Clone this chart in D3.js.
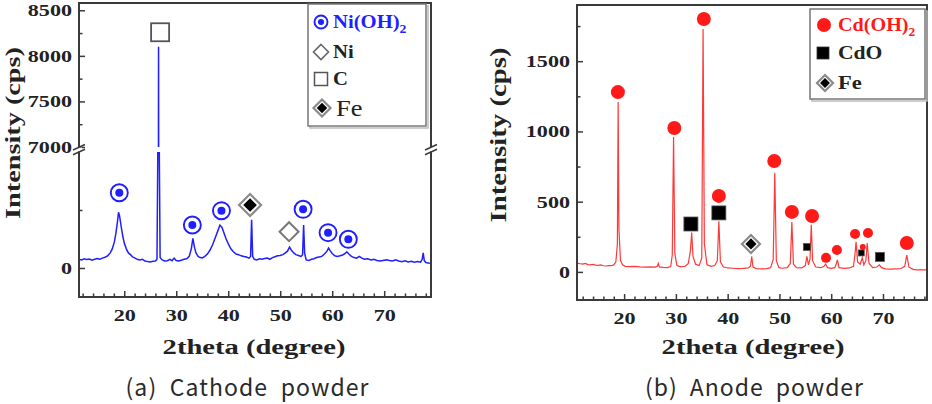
<!DOCTYPE html>
<html>
<head>
<meta charset="utf-8">
<script src="https://cdn.jsdelivr.net/npm/d3@7"></script>
<style>
body { margin: 0; background: #fff; }
</style>
</head>
<body>
<svg id="chart" width="932" height="404"></svg>
<script>
// XRD patterns: [2theta, counts]
var cathodePattern = [
  [11.3,150],[11.8,140],[12.3,160],[12.8,145],[13.3,155],[13.8,135],[14.3,150],[14.8,165],
  [15.3,150],[15.8,170],[16.3,185],[16.8,210],[17.3,260],[17.7,330],[18.1,450],[18.4,600],
  [18.7,800],[18.9,960],[19.1,900],[19.4,720],[19.7,560],[20.0,430],[20.4,330],[20.8,260],
  [21.2,230],[21.6,190],[22.0,175],[22.5,150],[23.0,140],[23.5,150],[24.0,120],[24.5,110],
  [25.0,105],[25.5,115],[26.0,120],[26.3,150],[26.5,2500],[26.6,8100],[26.7,2500],[26.9,180],
  [27.3,140],[27.8,120],[28.3,125],[28.8,150],[29.2,125],[29.6,170],[30.0,130],[30.5,120],
  [31.0,135],[31.5,150],[32.0,160],[32.5,200],[32.9,330],[33.2,510],[33.5,360],[33.8,260],
  [34.2,200],[34.6,180],[35.0,175],[35.5,200],[36.0,240],[36.5,310],[37.0,400],[37.5,520],
  [38.0,640],[38.4,740],[38.8,700],[39.2,600],[39.6,500],[40.0,420],[40.5,330],[41.0,280],
  [41.5,240],[42.0,230],[42.5,210],[43.0,200],[43.5,190],[44.0,170],[44.3,200],[44.5,830],
  [44.7,200],[45.0,150],[45.5,140],[46.0,160],[46.5,150],[47.0,165],[47.5,170],[48.0,150],
  [48.5,180],[49.0,195],[49.5,210],[50.0,215],[50.5,230],[51.0,260],[51.4,290],[51.8,360],
  [52.2,300],[52.6,260],[53.0,230],[53.5,215],[54.0,200],[54.3,230],[54.5,740],[54.7,250],
  [55.0,140],[55.5,130],[56.0,150],[56.5,160],[57.0,180],[57.5,190],[58.0,200],[58.5,240],
  [59.0,290],[59.3,345],[59.6,300],[60.0,250],[60.5,210],[61.0,200],[61.5,210],[62.0,225],
  [62.5,250],[62.8,280],[63.2,240],[63.7,200],[64.2,180],[64.7,170],[65.2,200],[65.7,170],
  [66.2,150],[66.8,160],[67.5,140],[68.0,150],[68.6,130],[69.2,120],[70.0,135],[70.5,140],
  [71.0,130],[71.6,120],[72.2,140],[72.8,120],[73.4,110],[74.0,125],[74.6,105],[75.2,115],
  [75.8,100],[76.4,110],[77.0,100],[77.3,150],[77.5,260],[77.7,130],[78.0,95],[78.5,85],[79.0,80]
];

var anodePattern = [
  [10.9,62],[11.5,58],[12.0,55],[12.5,60],[13.0,52],[13.5,50],[14.0,54],[14.5,48],[15.0,46],
  [15.5,50],[16.0,44],[16.5,42],[17.0,45],[17.5,44],[18.0,50],[18.4,70],[18.7,200],[18.85,1210],
  [19.0,300],[19.3,80],[19.7,50],[20.2,40],[21.0,38],[22.0,40],[23.0,36],[24.0,34],[25.0,36],
  [26.0,34],[26.4,40],[26.6,60],[26.8,36],[27.5,32],[28.3,30],[29.0,38],[29.3,120],[29.55,960],
  [29.8,130],[30.2,45],[31.0,36],[31.8,40],[32.4,60],[32.8,150],[33.05,280],[33.3,110],[33.8,55],
  [34.5,45],[35.0,100],[35.25,1730],[35.5,200],[36.0,50],[36.8,40],[37.5,45],[38.0,80],[38.3,360],
  [38.6,70],[39.2,35],[40.0,28],[41.0,26],[42.0,24],[43.0,25],[44.0,28],[44.4,40],[44.65,110],
  [44.9,35],[45.5,24],[46.5,22],[47.5,24],[48.3,30],[48.8,90],[49.1,705],[49.4,80],[49.9,30],
  [50.5,26],[51.5,30],[52.1,60],[52.4,355],[52.7,55],[53.3,30],[54.3,28],[55.0,45],[55.3,110],
  [55.6,50],[55.9,90],[56.15,335],[56.4,80],[57.0,35],[58.0,30],[58.6,40],[58.9,55],[59.3,30],
  [60.0,25],[60.7,30],[61.0,60],[61.2,85],[61.5,30],[62.5,25],[63.5,28],[64.3,40],[64.6,130],
  [64.8,215],[65.1,70],[65.6,55],[66.0,100],[66.3,50],[66.7,80],[66.95,205],[67.3,60],[68.0,30],
  [68.8,35],[69.3,50],[69.7,30],[70.5,22],[71.5,20],[72.5,22],[73.5,24],[74.2,40],[74.6,120],
  [75.0,35],[75.8,18],[76.5,15],[77.5,14],[78.5,15]
];

// phase markers: [2theta, counts]
var niOH2Peaks = [[19.05,1298],[33.1,741],[38.7,988],[54.4,1012],[59.2,609],[63.1,495]];
var niPeaks = [[51.7,626]];
var carbonPeaks = [[26.9,8259]];
var feCathodePeaks = [[44.2,1086]];

var cdOH2Peaks = [[18.8,1280],[29.7,1024],[35.4,1800],[38.3,541],[49.0,790],[52.4,427],[56.3,398],
  [59.0,100],[61.1,156],[64.6,270],[66.1,178],[67.1,277],[74.6,206]];
var cdOPeaks = [[32.9,341],[38.3,420],[55.3,178],[65.8,135],[69.4,107]];
var feAnodePeaks = [[44.5,199]];

var xTicks = [20,30,40,50,60,70];
var cathodeUpperTicks = [7000,7500,8000,8500];
var cathodeLowerTicks = [0];
var anodeTicks = [0,500,1000,1500];
var cathodeLegend = ["Ni(OH)", "Ni", "C", "Fe"];
var anodeLegend = ["Cd(OH)", "CdO", "Fe"];
var axisTitles = ["2theta (degree)", "Intensity (cps)"];
var captions = ["(a)  Cathode  powder", "(b)  Anode  powder"];

// ---- drawing ----
var SERIF = "'Liberation Serif','Times New Roman',serif";
var FRAME = "#3a3a3a";
var BLUE = "#1f1fff";
var RED = "#ff1a1a";
var cdOH2Radius = [7,7,7,7,7,7,7,5,5,5,3,5,7];
var cdOSide = [14,14,7,6,9];

var svg = d3.select("#chart");

function label(g, x, y, str, size, weight, fill, anchor, sx)
{
    return g.append("text")
    .attr("transform", "translate(" + x + "," + y + ") scale(" + sx + ",1)")
    .attr("text-anchor", anchor)
    .style("font-family", SERIF)
    .style("font-size", size + "px")
    .style("font-weight", weight)
    .style("fill", fill)
    .text(str);
}

function diamond(g, x, y, h, fill, stroke, sw)
{
    g.append("path")
    .attr("d", "M" + x + "," + (y - h) + "L" + (x + h) + "," + y + "L" + x + "," + (y + h) + "L" + (x - h) + "," + y + "Z")
    .style("fill", fill).style("stroke", stroke).style("stroke-width", sw);
}

function feMark(g, x, y, h)
{
    diamond(g, x, y, h, "#fff", "#8a8a8a", 2.2);
    diamond(g, x, y, h * 0.62, "#000", "none", 0);
}

function ringMark(g, x, y, r)
{
    g.append("circle").attr("cx", x).attr("cy", y).attr("r", r)
    .style("fill", "#fff").style("stroke", BLUE).style("stroke-width", 1.9);
    g.append("circle").attr("cx", x).attr("cy", y).attr("r", r * 0.47)
    .style("fill", BLUE);
}

function squareMark(g, x, y, s, fill, stroke, sw)
{
    g.append("rect").attr("x", x - s / 2).attr("y", y - s / 2).attr("width", s).attr("height", s)
    .style("fill", fill).style("stroke", stroke).style("stroke-width", sw);
}

function styleAxis(ax, isLeft)
{
    ax.select(".domain").remove();
    ax.selectAll("line").style("stroke", FRAME).style("stroke-width", 1.5);
    ax.selectAll("text")
    .style("font-family", SERIF).style("font-size", "17px").style("font-weight", "bold").style("fill", "#222");
    if (isLeft) {
        ax.selectAll("text").attr("x", 0).attr("transform", "translate(-7,0) scale(1.3,1)");
    } else {
        ax.selectAll("text").attr("transform", "scale(1.3,1)");
    }
}

function xAxes(g, x, y0)
{
    var minor = d3.range(12, 80, 2).filter(function(v) { return xTicks.indexOf(v) < 0 && v <= x.domain()[1]; });
    g.append("g").attr("transform", "translate(0," + y0 + ")")
    .call(d3.axisBottom(x).tickValues(minor).tickSize(-3.5).tickFormat(""))
    .call(styleAxis, false);
    g.append("g").attr("transform", "translate(0," + y0 + ")")
    .call(d3.axisBottom(x).tickValues(xTicks).tickSize(-6).tickPadding(12).tickFormat(d3.format("d")))
    .call(styleAxis, false);
}

function yAxes(g, y, x0, major, minor)
{
    g.append("g").attr("transform", "translate(" + x0 + ",0)")
    .call(d3.axisLeft(y).tickValues(minor).tickSize(-3.5).tickFormat(""))
    .call(styleAxis, true);
    g.append("g").attr("transform", "translate(" + x0 + ",0)")
    .call(d3.axisLeft(y).tickValues(major).tickSize(-6).tickFormat(d3.format("d")))
    .call(styleAxis, true);
}

// ---------- panel (a) cathode ----------
var ga = svg.append("g").attr("id", "cathode");
var xa = d3.scaleLinear().domain([11.3, 79]).range([79, 431]);
var yaUp = d3.scaleLinear().domain([7000, 8580]).range([147, 3]);
var yaLo = d3.scaleLinear().domain([-500, 2000]).range([297, 152]);

var defs = svg.append("defs");
defs.append("clipPath").attr("id", "clipUp").append("rect")
.attr("x", 79).attr("y", 3).attr("width", 352).attr("height", 144);
defs.append("clipPath").attr("id", "clipLo").append("rect")
.attr("x", 79).attr("y", 152).attr("width", 352).attr("height", 145);
defs.append("clipPath").attr("id", "clipB").append("rect")
.attr("x", 577).attr("y", 5).attr("width", 350).attr("height", 295);

ga.append("path").datum(cathodePattern)
.attr("clip-path", "url(#clipLo)")
.attr("d", d3.line().x(function(d) { return xa(d[0]); }).y(function(d) { return yaLo(d[1]); }))
.style("fill", "none").style("stroke", BLUE).style("stroke-width", 1.5);
ga.append("path").datum(cathodePattern)
.attr("clip-path", "url(#clipUp)")
.attr("d", d3.line().x(function(d) { return xa(d[0]); }).y(function(d) { return yaUp(d[1]); }))
.style("fill", "none").style("stroke", BLUE).style("stroke-width", 1.5);

ga.append("rect").attr("x", 79).attr("y", 3).attr("width", 352).attr("height", 294)
.style("fill", "none").style("stroke", FRAME).style("stroke-width", 2);

xAxes(ga, xa, 297);
yAxes(ga, yaUp, 79, cathodeUpperTicks, [7250, 7750, 8250]);
yAxes(ga, yaLo, 79, cathodeLowerTicks, [1000]);

// axis break marks
[79, 431].forEach(function(bx) {
    ga.append("rect").attr("x", bx - 3).attr("y", 147.5).attr("width", 6).attr("height", 4).style("fill", "#fff");
    ga.append("line").attr("x1", bx - 6).attr("y1", 150).attr("x2", bx + 6).attr("y2", 144.5)
    .style("stroke", FRAME).style("stroke-width", 1.5);
    ga.append("line").attr("x1", bx - 6).attr("y1", 154.7).attr("x2", bx + 6).attr("y2", 149.3)
    .style("stroke", FRAME).style("stroke-width", 1.5);
});

niOH2Peaks.forEach(function(p) { ringMark(ga, xa(p[0]), yaLo(p[1]), 8.5); });
niPeaks.forEach(function(p) { diamond(ga, xa(p[0]), yaLo(p[1]), 9.5, "#fff", "#777", 2); });
carbonPeaks.forEach(function(p) { squareMark(ga, xa(p[0]), yaUp(p[1]), 18, "#fff", "#555", 1.8); });
feCathodePeaks.forEach(function(p) { feMark(ga, xa(p[0]), yaLo(p[1]), 11); });

// legend (a)
ga.append("rect").attr("x", 310).attr("y", 6).attr("width", 118).attr("height", 122)
.style("fill", "none").style("stroke", "#bbb").style("stroke-width", 1.5);
ga.append("rect").attr("x", 308).attr("y", 4).attr("width", 118).attr("height", 122)
.style("fill", "#fff").style("stroke", "#777").style("stroke-width", 1.5);
ringMark(ga, 321, 22, 6.5);
var ta = label(ga, 333, 28, cathodeLegend[0], 18, "bold", BLUE, "start", 1.15);
ta.append("tspan").attr("dy", 5).style("font-size", "12px").text("2");
diamond(ga, 321, 52, 7.5, "#fff", "#666", 1.6);
label(ga, 333, 58, cathodeLegend[1], 18, "bold", "#222", "start", 1.15);
squareMark(ga, 321, 79, 13, "#fff", "#555", 1.5);
label(ga, 333, 85, cathodeLegend[2], 18, "bold", "#222", "start", 1.15);
feMark(ga, 322, 108, 8.5);
label(ga, 336, 116, cathodeLegend[3], 23, "normal", "#222", "start", 1.15);

label(ga, 254, 354, axisTitles[0], 22, "bold", "#222", "middle", 1.3);
ga.append("text")
.attr("transform", "translate(20,133) rotate(-90)")
.attr("text-anchor", "middle")
.attr("textLength", 172).attr("lengthAdjust", "spacingAndGlyphs")
.style("font-family", SERIF).style("font-size", "21px").style("font-weight", "bold").style("fill", "#222")
.text(axisTitles[1]);

// ---------- panel (b) anode ----------
var gb = svg.append("g").attr("id", "anode");
var xb = d3.scaleLinear().domain([10.9, 78.5]).range([577, 927]);
var yb = d3.scaleLinear().domain([-200, 1900]).range([300, 5]);

gb.append("path").datum(anodePattern)
.attr("clip-path", "url(#clipB)")
.attr("d", d3.line().x(function(d) { return xb(d[0]); }).y(function(d) { return yb(d[1]); }))
.style("fill", "none").style("stroke", "#ff3838").style("stroke-width", 1.2);

gb.append("rect").attr("x", 577).attr("y", 5).attr("width", 350).attr("height", 295)
.style("fill", "none").style("stroke", FRAME).style("stroke-width", 2);

xAxes(gb, xb, 300);
yAxes(gb, yb, 577, anodeTicks, [250, 750, 1250, 1750]);

cdOH2Peaks.forEach(function(p, i) {
    gb.append("circle").attr("cx", xb(p[0])).attr("cy", yb(p[1])).attr("r", cdOH2Radius[i]).style("fill", RED);
});
cdOPeaks.forEach(function(p, i) { squareMark(gb, xb(p[0]), yb(p[1]), cdOSide[i], "#000", "#555", 0.8); });
feAnodePeaks.forEach(function(p) { feMark(gb, xb(p[0]), yb(p[1]), 9); });

// legend (b)
gb.append("rect").attr("x", 812).attr("y", 11).attr("width", 115).attr("height", 90)
.style("fill", "none").style("stroke", "#bbb").style("stroke-width", 1.5);
gb.append("rect").attr("x", 810).attr("y", 9).attr("width", 115).attr("height", 90)
.style("fill", "#fff").style("stroke", "#777").style("stroke-width", 1.5);
gb.append("circle").attr("cx", 824).attr("cy", 25).attr("r", 7).style("fill", RED);
var tb = label(gb, 838, 31, anodeLegend[0], 18, "bold", RED, "start", 1.12);
tb.append("tspan").attr("dy", 5).style("font-size", "12px").text("2");
squareMark(gb, 823, 53, 12, "#000", "#333", 0.8);
label(gb, 838, 59, anodeLegend[1], 18, "bold", "#222", "start", 1.2);
feMark(gb, 825, 83, 8);
label(gb, 838, 89, anodeLegend[2], 18, "bold", "#222", "start", 1.25);

label(gb, 753, 354, axisTitles[0], 22, "bold", "#222", "middle", 1.3);
gb.append("text")
.attr("transform", "translate(506,135) rotate(-90)")
.attr("text-anchor", "middle")
.attr("textLength", 175).attr("lengthAdjust", "spacingAndGlyphs")
.style("font-family", SERIF).style("font-size", "23px").style("font-weight", "bold").style("fill", "#222")
.text(axisTitles[1]);

// captions
[[247, 243], [754, 218]].forEach(function(c, i) {
    svg.append("text")
    .attr("x", c[0]).attr("y", 396)
    .attr("text-anchor", "middle")
    .attr("textLength", c[1]).attr("lengthAdjust", "spacing")
    .style("white-space", "pre")
    .style("font-family", "'Noto Sans CJK KR','Noto Sans',sans-serif")
    .style("font-size", "23px").style("fill", "#2a2a2a")
    .text(captions[i]);
});
</script>
</body>
</html>
